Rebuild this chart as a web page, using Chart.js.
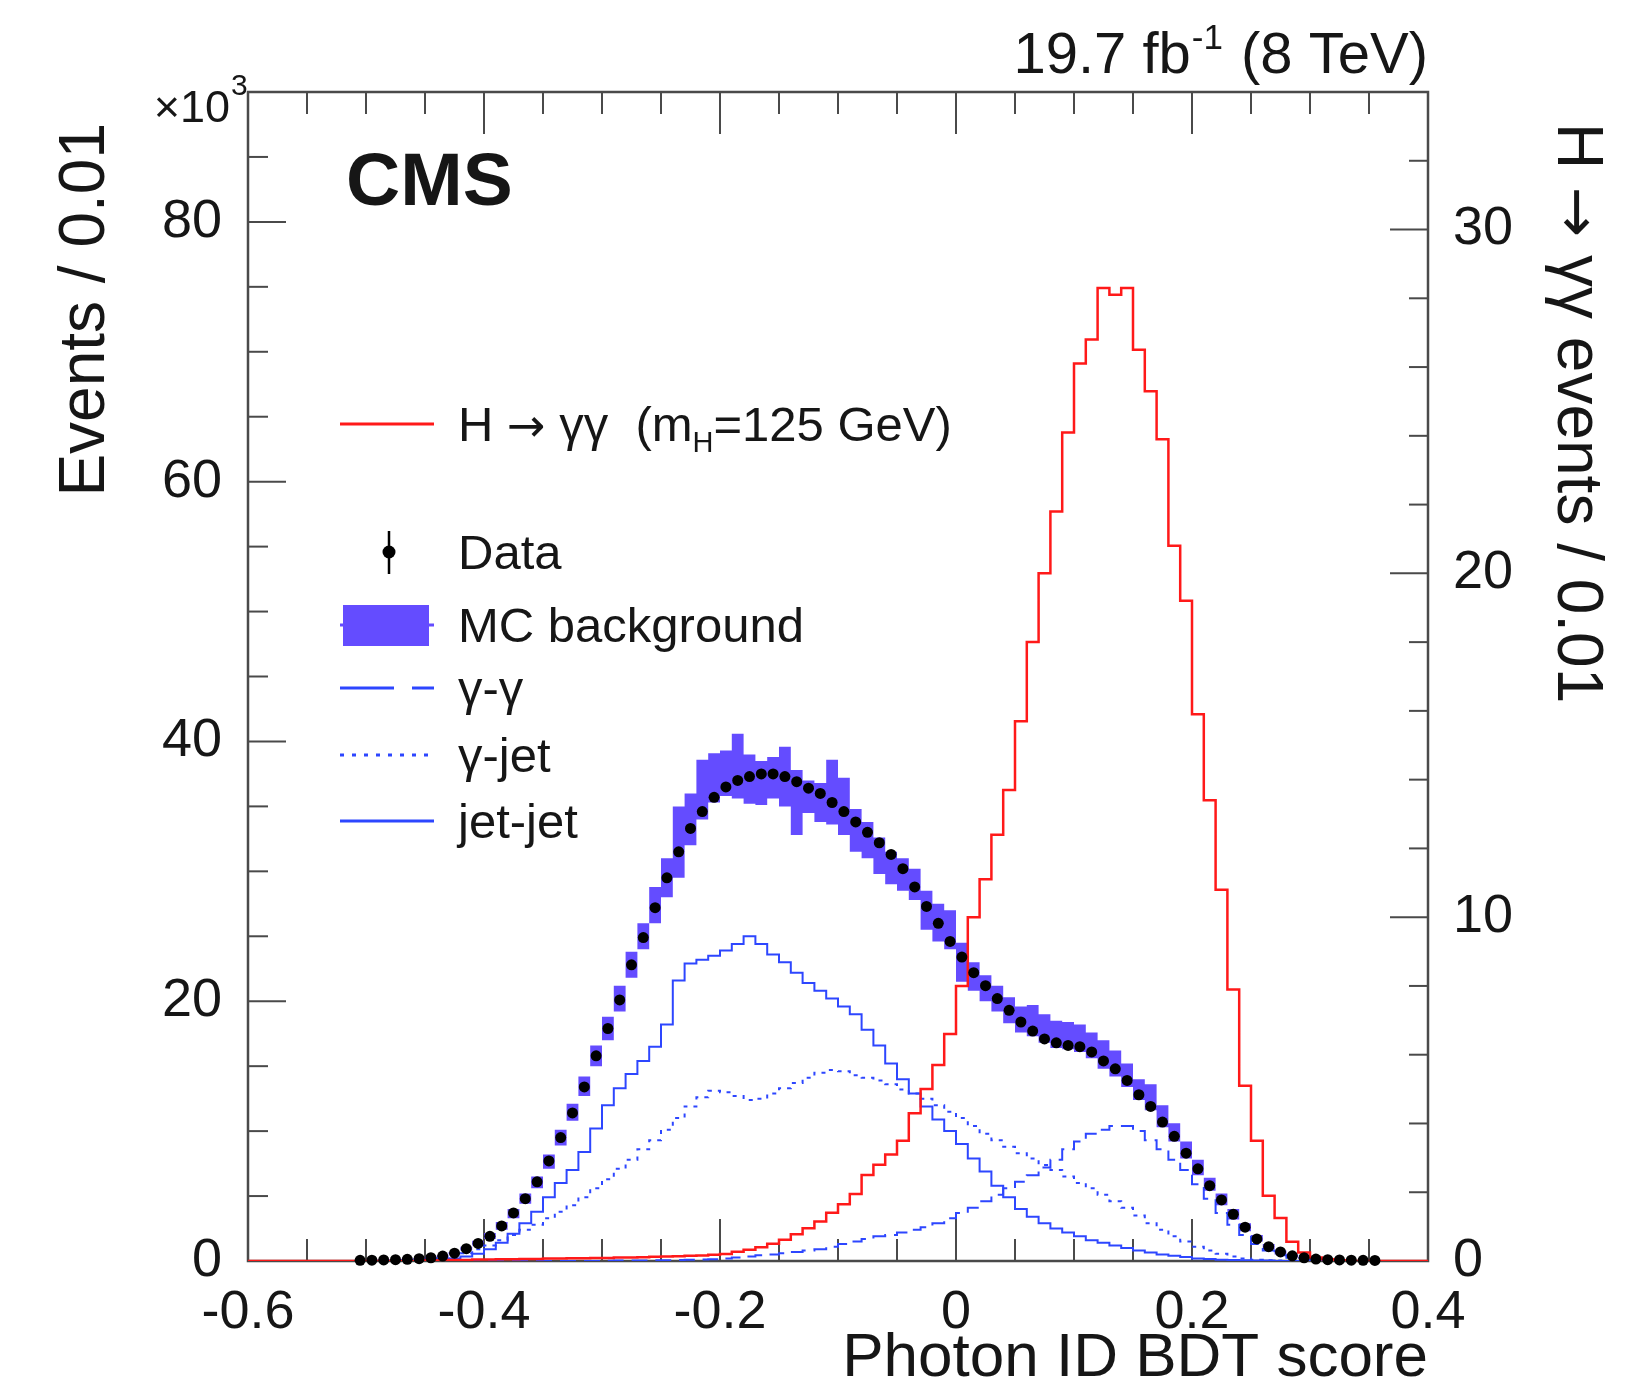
<!DOCTYPE html>
<html><head><meta charset="utf-8">
<script src="https://cdn.jsdelivr.net/npm/chart.js@4.4.0/dist/chart.umd.min.js"></script>
<style>html,body{margin:0;padding:0;background:#fff;}canvas{display:block;}</style>
</head><body>
<canvas id="c" width="1640" height="1384" style="width:1640px;height:1384px"></canvas>
<script>
// ---- axis definitions ----
const binWidth = 0.01, histMin = -0.6, histMax = 0.4;
const xTicks = [-0.6, -0.4, -0.2, 0, 0.2, 0.4];
const xTickLabels = ['-0.6', '-0.4', '-0.2', '0', '0.2', '0.4'];
const yTicks = [0, 20, 40, 60, 80];          // Events / 0.01 (x10^3)
const y2Ticks = [0, 10, 20, 30];             // H->gg events / 0.01

// ---- H -> gamma gamma signal (right axis), bins starting at signalStart ----
const signalStart = -0.45;
const signalVals = [
  0.02,0.02,0.03,0.03,0.04,0.04,0.05,0.05,0.06,0.06,0.07,0.07,0.08,0.08,0.09,0.09,0.10,0.10,0.11,0.12,0.13,0.14,0.15,0.16,0.18,
  0.20,0.27,0.33,0.40,0.50,0.62,0.78,0.95,1.15,1.40,1.65,1.95,2.50,2.80,3.10,3.50,4.30,5.00,5.70,6.60,
  8.0,10.0,11.1,12.4,13.7,15.7,18.0,20.0,21.8,24.1,26.1,26.8,28.3,28.1,28.3,26.5,25.3,23.9,20.8,19.2,15.9,13.4,10.8,7.9,5.1,3.5,1.9,1.25,0.56,0.25,0.10,0.05,0.02
];

// ---- Data points (bin centres from dataStart) ----
const dataStart = -0.505;
const dataVals = [
  0.05,0.06,0.08,0.10,0.13,0.18,0.25,0.38,0.6,0.95,
  1.35,1.9,2.7,3.7,4.8,6.1,7.7,9.5,11.4,13.4,
  15.8,17.9,20.1,22.8,24.9,27.2,29.5,31.5,33.3,34.6,
  35.7,36.5,37.0,37.3,37.5,37.5,37.3,36.9,36.4,36.0,
  35.3,34.6,33.8,33.0,32.2,31.3,30.2,28.8,27.3,26.0,
  24.6,23.4,22.2,21.2,20.2,19.3,18.4,17.7,17.1,16.8,
  16.6,16.5,16.1,15.4,14.8,13.9,12.8,11.9,10.7,9.6,
  8.3,7.1,5.8,4.7,3.6,2.6,1.7,1.1,0.7,0.4,
  0.25,0.15,0.1,0.08,0.06,0.05,0.04
];

// ---- MC background band (lower / upper edge), bins starting at mcStart ----
const mcStart = -0.51;
const mcLow = [
  0.03,0.04,0.05,0.07,0.09,0.13,0.2,0.3,0.5,0.8,
  1.2,1.7,2.4,3.3,4.4,5.6,7.1,8.9,10.8,12.7,
  15.0,17.0,19.2,21.8,24.0,26.0,28.0,29.5,32.0,34.0,
  35.3,35.8,35.6,35.2,35.1,35.6,35.0,32.8,34.5,33.8,
  33.6,32.8,31.5,31.0,29.8,29.0,28.5,27.8,25.5,24.6,
  24.0,21.5,20.8,20.0,19.2,18.3,17.6,17.3,16.8,16.4,
  16.3,16.1,15.6,14.8,14.2,13.4,12.4,11.6,10.3,9.2,
  7.9,6.6,5.4,4.3,3.2,2.3,1.5,0.9,0.5,0.3,
  0.15,0.08,0.05,0.04,0.03,0.03,0.02
];
const mcHigh = [
  0.08,0.09,0.11,0.13,0.17,0.22,0.32,0.45,0.7,1.1,
  1.55,2.15,3.0,4.0,5.2,6.5,8.2,10.1,12.1,14.2,
  16.6,18.8,21.2,23.8,26.0,28.8,31.0,35.0,36.0,38.6,
  39.1,39.3,40.6,39.0,38.5,38.8,39.6,37.8,37.0,36.8,
  38.6,37.2,34.8,33.8,32.6,31.5,31.0,30.2,28.5,27.5,
  27.0,24.5,23.0,22.0,21.2,20.3,19.6,19.7,19.0,18.5,
  18.4,18.2,17.6,17.0,16.2,15.2,14.0,13.6,12.0,10.6,
  9.2,7.8,6.4,5.2,4.0,2.9,2.0,1.3,0.8,0.5,
  0.3,0.18,0.12,0.1,0.08,0.07,0.06
];

// ---- MC components ----
const jjStart = -0.46;
const jjVals = [
  0.03,0.05,0.1,0.2,0.35,0.55,0.9,1.4,2.1,2.9,
  3.8,4.9,6.0,7.0,8.4,10.2,12.0,13.3,14.4,15.4,
  16.5,18.2,21.6,22.9,23.2,23.5,23.9,24.4,25.0,24.4,
  23.6,23.0,22.2,21.4,20.8,20.2,19.6,19.0,17.8,16.6,
  15.2,14.0,12.9,11.9,10.9,10.0,9.0,7.9,6.9,5.8,
  4.9,4.0,3.4,2.9,2.5,2.2,1.9,1.6,1.4,1.2,
  1.0,0.8,0.65,0.5,0.4,0.3,0.2,0.15,0.1,0.07,
  0.05,0.04,0.03
];
const gjStart = -0.47;
const gjVals = [
  0.03,0.05,0.1,0.2,0.35,0.6,0.9,1.2,1.6,2.0,
  2.4,2.8,3.3,3.8,4.3,4.9,5.6,6.3,7.1,7.8,
  8.6,9.3,10.1,11.0,11.9,12.6,13.1,13.0,12.7,12.4,
  12.5,12.9,13.3,13.7,14.1,14.5,14.7,14.6,14.3,14.1,
  13.9,13.6,13.2,12.9,12.5,12.0,11.5,11.0,10.4,9.8,
  9.3,8.8,8.3,7.9,7.4,7.0,6.5,6.0,5.6,5.1,
  4.6,4.1,3.5,2.9,2.4,1.9,1.5,1.1,0.8,0.55,
  0.35,0.2,0.1,0.05,0.03
];
const ggStart = -0.30;
const ggVals = [
  0.02,0.03,0.03,0.04,0.05,0.06,0.07,0.09,0.11,0.14,
  0.2,0.27,0.35,0.45,0.5,0.6,0.7,0.8,0.9,1.1,
  1.3,1.5,1.7,1.9,2.0,2.2,2.4,2.6,2.9,3.3,
  3.7,4.1,4.6,5.1,5.6,6.1,6.6,7.2,7.8,8.6,
  9.2,9.8,10.1,10.4,10.4,10.0,9.3,8.6,7.8,7.0,
  5.9,4.8,3.7,2.8,2.0,1.3,0.8,0.45,0.25,0.12,
  0.06,0.03
];

// ---- helpers ----
function histPoints(start, vals) {
  const n = Math.round((histMax - histMin) / binWidth);
  const off = Math.round((start - histMin) / binWidth);
  const pts = [];
  for (let i = 0; i < n; i++) {
    const k = i - off;
    pts.push({ x: histMin + i * binWidth, y: (k >= 0 && k < vals.length) ? vals[k] : 0 });
  }
  pts.push({ x: histMax, y: pts[n - 1].y });
  return pts;
}
const dataPts = dataVals.map((v, i) => ({ x: dataStart + i * binWidth, y: v }));

const F = '"Liberation Sans", Arial, Helvetica, sans-serif';
const FA = '"DejaVu Sans", sans-serif';
Chart.defaults.font.family = F;
const BLUE = 'rgb(45,70,255)';
const VIOLET = 'rgb(100,76,255)';
const RED = 'rgb(255,25,25)';
const INK = '#161616';

// draw a run of text pieces [{t, f, dy}] starting at x (left aligned)
function runText(ctx, pieces, x, y) {
  let xx = x;
  for (const p of pieces) {
    ctx.font = p.f;
    ctx.fillText(p.t, xx, y + (p.dy || 0));
    xx += ctx.measureText(p.t).width;
  }
  return xx;
}

const overlay = {
  id: 'overlay',
  beforeDatasetsDraw(chart) {
    const { ctx, chartArea: a, scales } = chart;
    ctx.save();
    ctx.strokeStyle = '#4a4a4a';
    ctx.lineWidth = 2.5;
    ctx.strokeRect(a.left, a.top, a.right - a.left, a.bottom - a.top);
    ctx.lineWidth = 2;
    const line = (x1, y1, x2, y2) => { ctx.beginPath(); ctx.moveTo(x1, y1); ctx.lineTo(x2, y2); ctx.stroke(); };
    for (let k = 1; k < 20; k++) {
      const v = histMin + k * 0.05;
      const px = scales.x.getPixelForValue(v);
      const L = (k % 4 === 0) ? 42 : 22;
      line(px, a.bottom, px, a.bottom - L);
      line(px, a.top, px, a.top + L);
    }
    for (let v = 5; v < 90; v += 5) {
      const py = scales.y.getPixelForValue(v);
      line(a.left, py, a.left + ((v % 20 === 0) ? 38 : 20), py);
    }
    for (let v = 2; v < 34; v += 2) {
      const py = scales.y2.getPixelForValue(v);
      line(a.right, py, a.right - ((v % 10 === 0) ? 38 : 19), py);
    }
    ctx.restore();
  },
  afterDraw(chart) {
    const ctx = chart.ctx;
    ctx.save();
    ctx.fillStyle = INK;
    ctx.textBaseline = 'alphabetic';
    ctx.textAlign = 'left';
    // CMS
    ctx.font = 'bold 75px ' + F;
    ctx.fillText('CMS', 346, 205);
    // luminosity
    const a = '19.7 fb', sup = '-1', b = ' (8 TeV)';
    ctx.font = '58px ' + F; const wa = ctx.measureText(a).width, wb = ctx.measureText(b).width;
    ctx.font = '35px ' + F; const ws = ctx.measureText(sup).width;
    const x0 = 1428 - wa - ws - wb - 3;
    ctx.font = '58px ' + F; ctx.fillText(a, x0, 73); ctx.fillText(b, x0 + wa + ws + 3, 73);
    ctx.font = '35px ' + F; ctx.fillText(sup, x0 + wa + 1, 49);
    // x10^3
    ctx.font = '45px ' + F; ctx.textAlign = 'right'; ctx.fillText('\u00d710', 230, 122);
    ctx.font = '30px ' + F; ctx.textAlign = 'left'; ctx.fillText('3', 231, 95);
    // axis titles
    ctx.font = '64px ' + F;
    ctx.save(); ctx.translate(104, 123); ctx.rotate(-Math.PI / 2); ctx.textAlign = 'right';
    ctx.fillText('Events / 0.01', 0, 0); ctx.restore();
    ctx.save(); ctx.translate(1558, 123); ctx.rotate(Math.PI / 2); ctx.textAlign = 'left';
    runText(ctx, [
      { t: 'H ', f: '64px ' + F },
      { t: '\u2192', f: '60px ' + FA },
      { t: ' \u03b3\u03b3 events / 0.01', f: '64px ' + F }
    ], 0, 0);
    ctx.restore();
    ctx.font = '62px ' + F; ctx.textAlign = 'right';
    ctx.fillText('Photon ID BDT score', 1428, 1376);
    // legend
    ctx.textAlign = 'left';
    const tx = 458, fs = 49;
    const seg = (y, color, dash, w) => {
      ctx.save(); ctx.strokeStyle = color; ctx.lineWidth = w; ctx.setLineDash(dash);
      ctx.beginPath(); ctx.moveTo(340, y); ctx.lineTo(434, y); ctx.stroke(); ctx.restore();
    };
    const label = (s, cy) => { ctx.font = fs + 'px ' + F; ctx.fillText(s, tx, cy + 17); };
    seg(424, RED, [], 3);
    runText(ctx, [
      { t: 'H ', f: fs + 'px ' + F },
      { t: '\u2192', f: '46px ' + FA },
      { t: ' \u03b3\u03b3  (m', f: fs + 'px ' + F },
      { t: 'H', f: '29px ' + F, dy: 11 },
      { t: '=125 GeV)', f: fs + 'px ' + F }
    ], tx, 441);
    // Data marker
    ctx.save(); ctx.strokeStyle = '#000'; ctx.lineWidth = 2.5;
    ctx.beginPath(); ctx.moveTo(389, 531); ctx.lineTo(389, 574); ctx.stroke();
    ctx.fillStyle = '#000'; ctx.beginPath(); ctx.arc(389, 552, 6.5, 0, Math.PI * 2); ctx.fill(); ctx.restore();
    ctx.fillStyle = INK;
    label('Data', 552);
    ctx.save(); ctx.fillStyle = VIOLET; ctx.fillRect(343, 605, 86, 41); ctx.restore();
    seg(625, VIOLET, [], 3);
    ctx.fillStyle = INK;
    label('MC background', 625);
    seg(688, BLUE, [54, 18], 3); label('\u03b3-\u03b3', 688);
    seg(755, BLUE, [4, 8], 3); label('\u03b3-jet', 755);
    seg(821, BLUE, [], 3); label('jet-jet', 821);
    ctx.restore();
  }
};

const histStyle = (color, dash, w) => ({ stepped: 'before', borderColor: color, borderWidth: w, borderDash: dash, pointRadius: 0, fill: false });

new Chart(document.getElementById('c').getContext('2d'), {
  type: 'line',
  data: {
    datasets: [
      { label: 'Data', data: dataPts, showLine: false, pointRadius: 5.5, pointBackgroundColor: '#000', pointBorderWidth: 0, yAxisID: 'y', clip: false },
      Object.assign({ label: 'H', data: histPoints(signalStart, signalVals), yAxisID: 'y2' }, histStyle(RED, [], 2.5)),
      Object.assign({ label: 'jet-jet', data: histPoints(jjStart, jjVals), yAxisID: 'y' }, histStyle(BLUE, [], 2)),
      Object.assign({ label: 'gamma-jet', data: histPoints(gjStart, gjVals), yAxisID: 'y' }, histStyle(BLUE, [4, 6], 2)),
      Object.assign({ label: 'gamma-gamma', data: histPoints(ggStart, ggVals), yAxisID: 'y' }, histStyle(BLUE, [16, 8], 2)),
      { label: 'mcLow', data: histPoints(mcStart, mcLow), yAxisID: 'y', stepped: 'before', borderColor: 'rgba(0,0,0,0)', borderWidth: 1, pointRadius: 0, fill: false },
      { label: 'mcHigh', data: histPoints(mcStart, mcHigh), yAxisID: 'y', stepped: 'before', borderColor: 'rgba(0,0,0,0)', borderWidth: 1, pointRadius: 0, fill: '-1', backgroundColor: VIOLET }
    ]
  },
  options: {
    responsive: false,
    animation: false,
    devicePixelRatio: 1,
    layout: { padding: { top: 92, left: 0, right: 0, bottom: 0 } },
    plugins: { legend: { display: false }, tooltip: { enabled: false } },
    scales: {
      x: {
        type: 'linear', min: histMin, max: histMax,
        afterBuildTicks: s => { s.ticks = xTicks.map(v => ({ value: v })); },
        ticks: {
          callback: v => { const i = xTicks.findIndex(t => Math.abs(t - v) < 1e-9); return i >= 0 ? xTickLabels[i] : ''; },
          font: { size: 54 }, color: INK, padding: 12, maxRotation: 0, autoSkip: false
        },
        grid: { display: false }, border: { display: false },
        afterFit: s => { s.height = 123; }
      },
      y: {
        type: 'linear', position: 'left', min: 0, max: 90,
        afterBuildTicks: s => { s.ticks = yTicks.map(v => ({ value: v })); },
        ticks: { font: { size: 54 }, color: INK, padding: 18 },
        grid: { display: false }, border: { display: false },
        afterFit: s => { s.width = 248; }
      },
      y2: {
        type: 'linear', position: 'right', min: 0, max: 34,
        afterBuildTicks: s => { s.ticks = y2Ticks.map(v => ({ value: v })); },
        ticks: { font: { size: 54 }, color: INK, padding: 17 },
        grid: { display: false }, border: { display: false },
        afterFit: s => { s.width = 212; }
      }
    }
  },
  plugins: [overlay]
});
</script>
</body></html>
